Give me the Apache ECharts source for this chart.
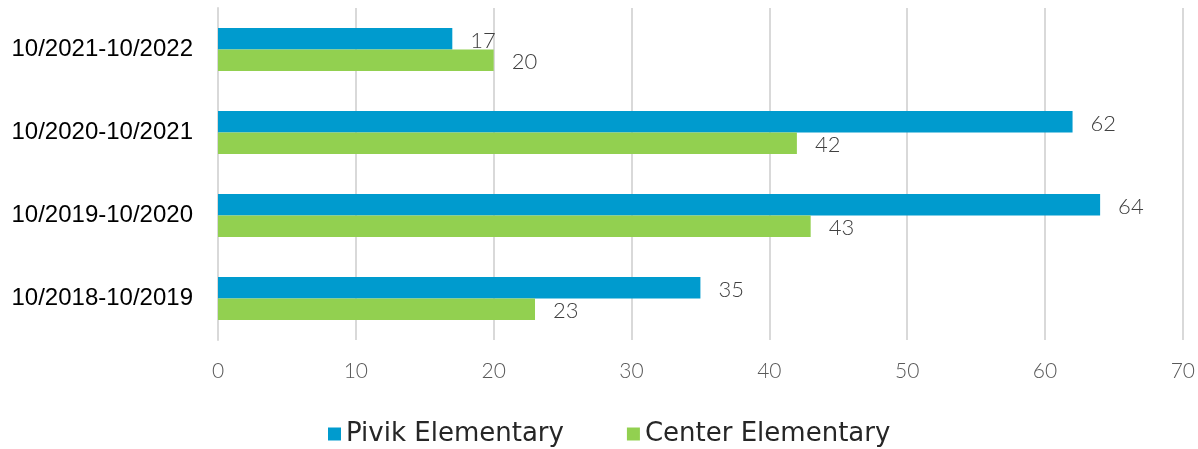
<!DOCTYPE html>
<html><head><meta charset="utf-8">
<script src="https://cdn.jsdelivr.net/npm/echarts@6/dist/echarts.min.js"></script>
<style>html,body{margin:0;padding:0;background:#fff}#c{width:1198px;height:449px}</style>
</head><body><div id="c"></div>
<script>
const categories = ['10/2018-10/2019','10/2019-10/2020','10/2020-10/2021','10/2021-10/2022'];
const pivik = [35, 64, 62, 17];
const center = [23, 43, 42, 20];
const xTicks = [0,10,20,30,40,50,60,70];

const chart = echarts.init(document.getElementById('c'));
const lbl = {show:true, position:'right', distance:18, offset:[0,2], color:'#404040', fontSize:22, fontFamily:'Lato', fontWeight:300};
chart.setOption({
  animation:false,
  grid:{left:218, right:13, top:8, bottom:109},
  legend:{bottom:-3, left:323, itemWidth:13, itemHeight:13, itemGap:63,
    icon:'rect', textStyle:{fontSize:26, color:'#262626', fontFamily:'DejaVu Sans', fontWeight:'normal'},
    data:['Pivik Elementary','Center Elementary']},
  xAxis:{type:'value', min:0, max:70, interval:10,
    axisLine:{show:false}, axisTick:{show:false},
    splitLine:{lineStyle:{color:'#d9d9d9', width:2}},
    axisLabel:{color:'#595959', fontSize:21, margin:21, fontFamily:'Lato', fontWeight:300,
      formatter:v=>xTicks.includes(v)?String(v):''}},
  yAxis:{type:'category', data:categories,
    axisLine:{show:true, lineStyle:{color:'#d9d9d9', width:2}}, axisTick:{show:false},
    axisLabel:{color:'#000', fontSize:24, margin:25, fontFamily:'Liberation Sans'}},
  series:[
    {name:'Pivik Elementary', type:'bar', data:pivik, barGap:'0%', barCategoryGap:'48%',
     itemStyle:{color:'#009BCE'}, label:lbl},
    {name:'Center Elementary', type:'bar', data:center, barGap:'0%', barCategoryGap:'48%',
     itemStyle:{color:'#92D050'}, label:lbl}
  ]
});
</script></body></html>
